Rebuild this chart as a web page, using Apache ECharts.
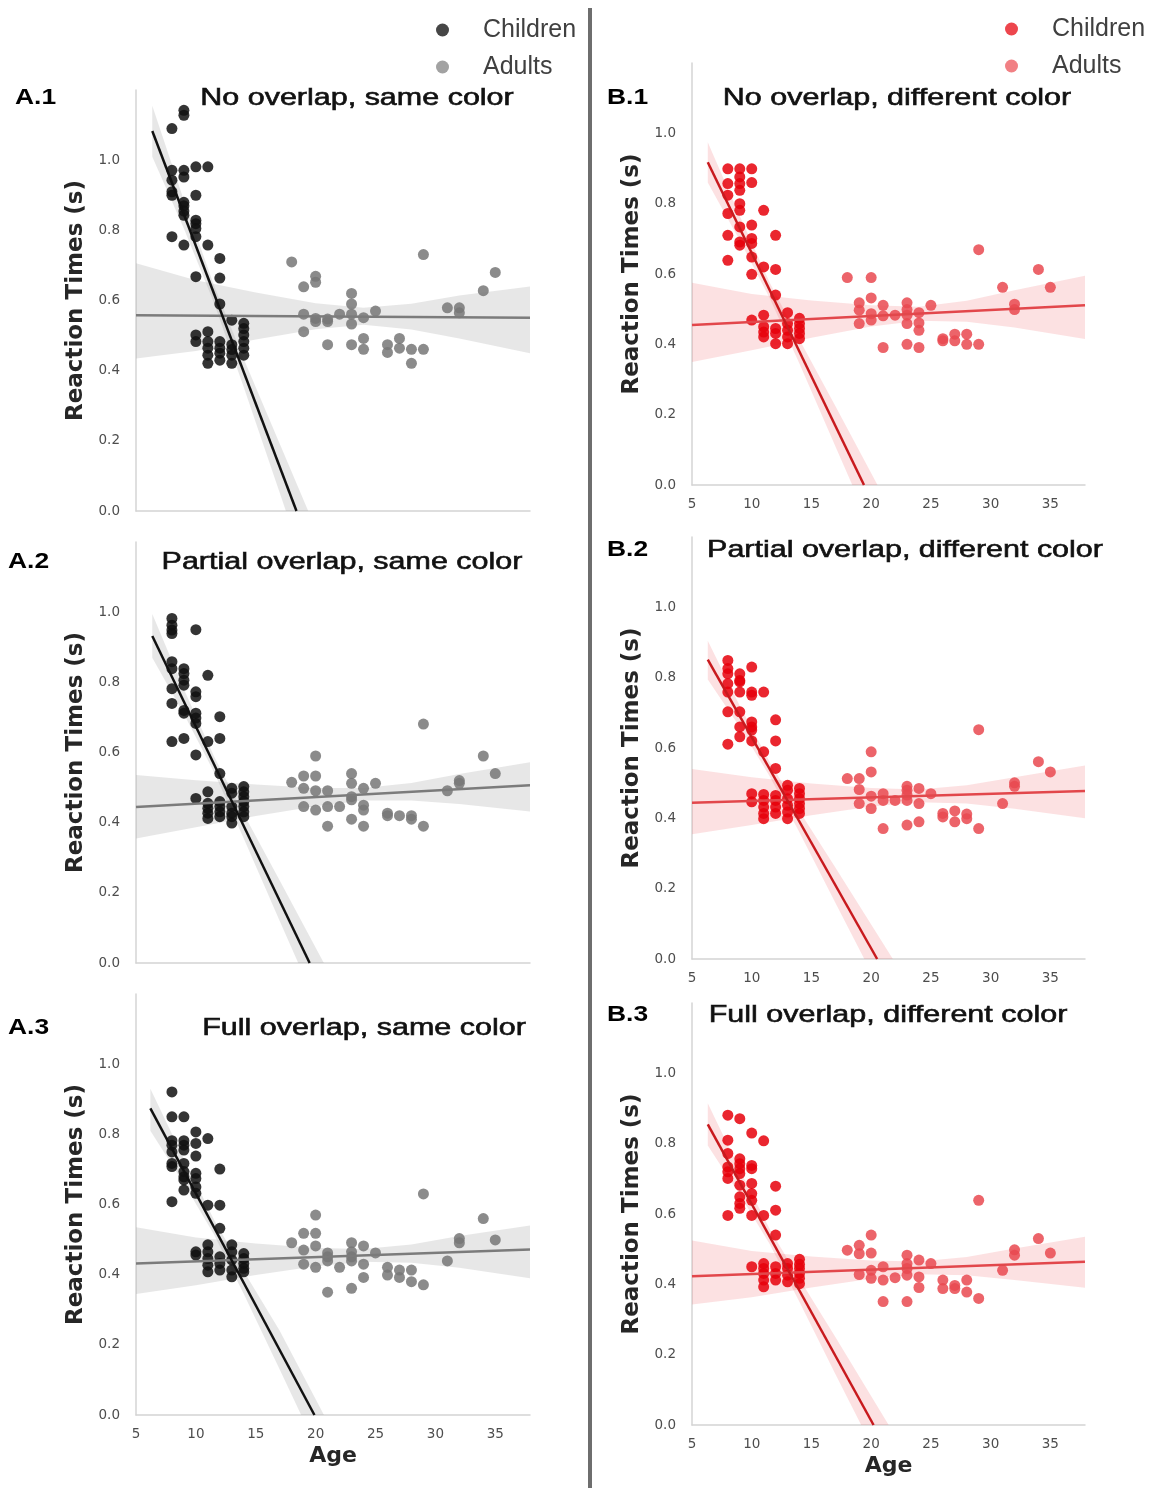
<!DOCTYPE html>
<html>
<head>
<meta charset="utf-8">
<title>Reaction times by age</title>
<script src="https://cdn.jsdelivr.net/npm/echarts@6/dist/echarts.min.js"></script>
<style>
  html, body { margin: 0; padding: 0; background: #fff; }
  #chart { width: 1165px; height: 1488px; }
</style>
</head>
<body>
<div id="chart"></div>
<script>
// points grouped by age: [age, [reaction times]]
var a1Children = [[8, [1.09, 0.971, 0.943, 0.91, 0.90, 0.782]], [9, [1.142, 1.128, 0.971, 0.952, 0.88, 0.87, 0.855, 0.843, 0.758]], [10, [0.981, 0.90, 0.829, 0.819, 0.805, 0.782, 0.668, 0.502, 0.483]], [11, [0.981, 0.758, 0.511, 0.483, 0.464, 0.444, 0.421]], [12, [0.72, 0.664, 0.59, 0.483, 0.464, 0.45, 0.43]], [13, [0.544, 0.474, 0.46, 0.444, 0.421]], [14, [0.535, 0.52, 0.502, 0.483, 0.464, 0.444]]];
var a1Adults = [[18, [0.710]], [19, [0.639, 0.561, 0.511]], [20, [0.669, 0.652, 0.549, 0.540]], [21, [0.547, 0.540, 0.474]], [22, [0.561]], [23, [0.620, 0.590, 0.561, 0.533, 0.474]], [24, [0.551, 0.492, 0.461]], [25, [0.570]], [26, [0.474, 0.452]], [27, [0.492, 0.464]], [28, [0.461, 0.421]], [29, [0.731, 0.461]], [31, [0.579]], [32, [0.579, 0.565]], [34, [0.628]], [35, [0.680]]];
var a2Children = [[8, [0.982, 0.963, 0.949, 0.939, 0.859, 0.839, 0.782, 0.740, 0.631]], [9, [0.839, 0.825, 0.806, 0.792, 0.720, 0.712, 0.640]], [10, [0.950, 0.773, 0.759, 0.712, 0.698, 0.683, 0.593, 0.469]], [11, [0.820, 0.631, 0.488, 0.455, 0.441, 0.427, 0.412]], [12, [0.702, 0.640, 0.540, 0.460, 0.446, 0.431, 0.417]], [13, [0.498, 0.484, 0.446, 0.427, 0.417, 0.399]], [14, [0.503, 0.488, 0.474, 0.460, 0.446, 0.431, 0.417]]];
var a2Adults = [[18, [0.515]], [19, [0.533, 0.498, 0.446]], [20, [0.590, 0.533, 0.491, 0.436]], [21, [0.491, 0.446, 0.390]], [22, [0.446]], [23, [0.540, 0.512, 0.474, 0.465, 0.410]], [24, [0.498, 0.450, 0.436, 0.390]], [25, [0.512]], [26, [0.427, 0.420]], [27, [0.420]], [28, [0.420, 0.410]], [29, [0.681, 0.390]], [31, [0.491]], [32, [0.520, 0.512]], [34, [0.590]], [35, [0.540]]];
var a3Children = [[8, [0.921, 0.850, 0.782, 0.769, 0.750, 0.717, 0.708, 0.608]], [9, [0.850, 0.782, 0.769, 0.755, 0.717, 0.694, 0.679, 0.670, 0.641]], [10, [0.807, 0.774, 0.738, 0.689, 0.674, 0.650, 0.632, 0.465, 0.456]], [11, [0.788, 0.598, 0.485, 0.465, 0.446, 0.427, 0.408]], [12, [0.701, 0.598, 0.532, 0.451, 0.432, 0.413]], [13, [0.485, 0.465, 0.442, 0.413, 0.394]], [14, [0.460, 0.446, 0.432, 0.418, 0.408]]];
var a3Adults = [[18, [0.491]], [19, [0.518, 0.470, 0.430]], [20, [0.570, 0.518, 0.482, 0.421]], [21, [0.462, 0.451, 0.439, 0.350]], [22, [0.421]], [23, [0.491, 0.465, 0.451, 0.439, 0.361]], [24, [0.482, 0.430, 0.392]], [25, [0.462]], [26, [0.421, 0.399]], [27, [0.413, 0.392]], [28, [0.413, 0.380]], [29, [0.630, 0.371]], [31, [0.439]], [32, [0.503, 0.491]], [34, [0.560]], [35, [0.499]]];
var b1Children = [[8, [0.899, 0.857, 0.824, 0.772, 0.710, 0.639]], [9, [0.899, 0.876, 0.857, 0.838, 0.800, 0.781, 0.734, 0.691, 0.682]], [10, [0.899, 0.860, 0.739, 0.701, 0.687, 0.648, 0.599, 0.469]], [11, [0.781, 0.620, 0.483, 0.450, 0.435, 0.421]], [12, [0.710, 0.613, 0.540, 0.445, 0.431, 0.402]], [13, [0.490, 0.459, 0.440, 0.421, 0.402]], [14, [0.474, 0.459, 0.445, 0.431, 0.416]]];
var b1Adults = [[18, [0.590]], [19, [0.518, 0.497, 0.459]], [20, [0.590, 0.532, 0.487, 0.469]], [21, [0.511, 0.481, 0.391]], [22, [0.483]], [23, [0.518, 0.499, 0.483, 0.459, 0.400]], [24, [0.490, 0.461, 0.440, 0.391]], [25, [0.511]], [26, [0.416, 0.410]], [27, [0.429, 0.410]], [28, [0.429, 0.400]], [29, [0.669, 0.400]], [31, [0.562]], [32, [0.514, 0.499]], [34, [0.613]], [35, [0.562]]];
var b2Children = [[8, [0.849, 0.826, 0.811, 0.783, 0.759, 0.703, 0.611]], [9, [0.811, 0.792, 0.788, 0.759, 0.703, 0.660, 0.632]], [10, [0.830, 0.759, 0.750, 0.674, 0.660, 0.651, 0.620, 0.470, 0.447]], [11, [0.759, 0.589, 0.468, 0.451, 0.432, 0.414, 0.399]], [12, [0.680, 0.620, 0.542, 0.465, 0.451, 0.432, 0.414]], [13, [0.494, 0.480, 0.456, 0.437, 0.418, 0.399]], [14, [0.485, 0.470, 0.456, 0.442, 0.428, 0.414]]];
var b2Adults = [[18, [0.513]], [19, [0.513, 0.482, 0.442]], [20, [0.589, 0.532, 0.463, 0.428]], [21, [0.470, 0.451, 0.371]], [22, [0.451]], [23, [0.491, 0.480, 0.466, 0.451, 0.381]], [24, [0.485, 0.442, 0.390]], [25, [0.470]], [26, [0.414, 0.404]], [27, [0.421, 0.390]], [28, [0.412, 0.399]], [29, [0.652, 0.371]], [31, [0.442]], [32, [0.501, 0.491]], [34, [0.561]], [35, [0.532]]];
var b3Children = [[8, [0.881, 0.810, 0.772, 0.734, 0.720, 0.701, 0.596]], [9, [0.871, 0.757, 0.743, 0.729, 0.715, 0.682, 0.649, 0.630, 0.616]], [10, [0.830, 0.738, 0.729, 0.687, 0.658, 0.639, 0.596, 0.450]], [11, [0.808, 0.596, 0.459, 0.445, 0.431, 0.412, 0.393]], [12, [0.679, 0.611, 0.540, 0.450, 0.431, 0.412]], [13, [0.459, 0.445, 0.426, 0.407]], [14, [0.471, 0.457, 0.445, 0.431, 0.417, 0.402]]];
var b3Adults = [[18, [0.497]], [19, [0.511, 0.487, 0.428]], [20, [0.540, 0.489, 0.440, 0.417]], [21, [0.450, 0.412, 0.351]], [22, [0.419]], [23, [0.483, 0.459, 0.445, 0.426, 0.351]], [24, [0.469, 0.421, 0.391]], [25, [0.459]], [26, [0.412, 0.388]], [27, [0.397, 0.388]], [28, [0.412, 0.378]], [29, [0.639, 0.360]], [31, [0.440]], [32, [0.498, 0.483]], [34, [0.530]], [35, [0.489]]];

// regression lines, end points
var a1ChildLine = [[6.36, 1.083], [18.4, 0]];
var a1AdultLine = [[5, 0.558], [37.9, 0.551]];
var a2ChildLine = [[6.36, 0.932], [19.5, 0]];
var a2AdultLine = [[5, 0.445], [37.9, 0.507]];
var a3ChildLine = [[6.2, 0.874], [19.9, 0]];
var a3AdultLine = [[5, 0.432], [37.9, 0.472]];
var b1ChildLine = [[6.32, 0.918], [19.4, 0]];
var b1AdultLine = [[5, 0.455], [37.9, 0.511]];
var b2ChildLine = [[6.32, 0.851], [20.5, 0]];
var b2AdultLine = [[5, 0.444], [37.9, 0.478]];
var b3ChildLine = [[6.32, 0.855], [20.2, 0]];
var b3AdultLine = [[5, 0.423], [37.9, 0.464]];

// confidence bands: [age, lower, upper]
var a1ChildBand = [[6.36, 1.01, 1.155], [9, 0.805, 0.885], [11.5, 0.594, 0.644], [14, 0.353, 0.433], [17, 0.052, 0.192], [20, -0.25, -0.05]];
var a1AdultBand = [[5, 0.435, 0.706], [10, 0.456, 0.658], [15, 0.489, 0.623], [20, 0.518, 0.592], [24, 0.531, 0.579], [28, 0.517, 0.591], [32, 0.492, 0.614], [37.9, 0.45, 0.64]];
var a2ChildBand = [[6.36, 0.87, 0.995], [9, 0.71, 0.78], [11.5, 0.545, 0.59], [14, 0.355, 0.425], [17, 0.12, 0.235], [21, -0.19, -0.02]];
var a2AdultBand = [[5, 0.355, 0.536], [10, 0.387, 0.521], [15, 0.419, 0.509], [20, 0.447, 0.499], [24, 0.463, 0.499], [28, 0.463, 0.513], [32, 0.453, 0.539], [37.9, 0.432, 0.572]];
var a3ChildBand = [[6.2, 0.81, 0.93], [9, 0.66, 0.73], [11.5, 0.515, 0.557], [14, 0.345, 0.41], [17, 0.13, 0.24], [21, -0.16, -0.02]];
var a3AdultBand = [[5, 0.345, 0.535], [10, 0.37, 0.506], [15, 0.399, 0.489], [20, 0.424, 0.476], [24, 0.437, 0.473], [28, 0.434, 0.486], [32, 0.42, 0.51], [37.9, 0.39, 0.54]];
var b1ChildBand = [[6.32, 0.86, 0.975], [9, 0.695, 0.765], [11.5, 0.532, 0.576], [14, 0.345, 0.413], [17, 0.11, 0.225], [21, -0.2, -0.03]];
var b1AdultBand = [[5, 0.35, 0.575], [10, 0.383, 0.543], [15, 0.419, 0.525], [20, 0.451, 0.511], [24, 0.467, 0.507], [28, 0.464, 0.524], [32, 0.448, 0.554], [37.9, 0.415, 0.595]];
var b2ChildBand = [[6.32, 0.795, 0.905], [9, 0.66, 0.72], [11.5, 0.52, 0.56], [14, 0.36, 0.42], [17, 0.16, 0.26], [22, -0.17, -0.01]];
var b2AdultBand = [[5, 0.355, 0.54], [10, 0.381, 0.517], [15, 0.409, 0.499], [20, 0.434, 0.486], [24, 0.446, 0.482], [28, 0.442, 0.494], [32, 0.427, 0.517], [37.9, 0.40, 0.55]];
var b3ChildBand = [[6.32, 0.795, 0.915], [9, 0.655, 0.725], [11.5, 0.515, 0.557], [14, 0.35, 0.415], [17, 0.145, 0.25], [22, -0.19, -0.03]];
var b3AdultBand = [[5, 0.343, 0.525], [10, 0.363, 0.495], [15, 0.391, 0.479], [20, 0.416, 0.468], [24, 0.429, 0.465], [28, 0.426, 0.478], [32, 0.412, 0.502], [37.9, 0.39, 0.535]];

var yTicks = [0, 0.2, 0.4, 0.6, 0.8, 1.0];
var xTicks = [5, 10, 15, 20, 25, 30, 35];

var gray = { child: '#111111', adult: '#777777', childLine: '#111111', adultLine: '#7b7b7b', band: 'rgba(160,160,160,0.25)', legendChild: '#262626', legendAdult: '#929292' };
var red = { child: '#e6000a', adult: '#e94950', childLine: '#c81a1e', adultLine: '#e2474b', band: 'rgba(236,90,94,0.18)', legendChild: '#ea262e', legendAdult: '#ee6a6e' };

var panels = [
  { grid: { left: 136, top: 90, width: 394, height: 421 }, pal: gray, xLabels: false, age: false, children: a1Children, adults: a1Adults, childLine: a1ChildLine, adultLine: a1AdultLine, childBand: a1ChildBand, adultBand: a1AdultBand },
  { grid: { left: 136, top: 542, width: 394, height: 421 }, pal: gray, xLabels: false, age: false, children: a2Children, adults: a2Adults, childLine: a2ChildLine, adultLine: a2AdultLine, childBand: a2ChildBand, adultBand: a2AdultBand },
  { grid: { left: 136, top: 994, width: 394, height: 421 }, pal: gray, xLabels: true, age: true, children: a3Children, adults: a3Adults, childLine: a3ChildLine, adultLine: a3AdultLine, childBand: a3ChildBand, adultBand: a3AdultBand },
  { grid: { left: 692, top: 63, width: 393, height: 422 }, pal: red, xLabels: true, age: false, children: b1Children, adults: b1Adults, childLine: b1ChildLine, adultLine: b1AdultLine, childBand: b1ChildBand, adultBand: b1AdultBand },
  { grid: { left: 692, top: 537, width: 393, height: 422 }, pal: red, xLabels: true, age: false, children: b2Children, adults: b2Adults, childLine: b2ChildLine, adultLine: b2AdultLine, childBand: b2ChildBand, adultBand: b2AdultBand },
  { grid: { left: 692, top: 1003, width: 393, height: 422 }, pal: red, xLabels: true, age: true, children: b3Children, adults: b3Adults, childLine: b3ChildLine, adultLine: b3AdultLine, childBand: b3ChildBand, adultBand: b3AdultBand }
];

var labels = [
  { tag: 'A.1', tagX: 15, title: 'No overlap, same color', titleX: 357, y: 98 },
  { tag: 'A.2', tagX: 8, title: 'Partial overlap, same color', titleX: 342, y: 562 },
  { tag: 'A.3', tagX: 8, title: 'Full overlap, same color', titleX: 364, y: 1028 },
  { tag: 'B.1', tagX: 607, title: 'No overlap, different color', titleX: 897, y: 98 },
  { tag: 'B.2', tagX: 607, title: 'Partial overlap, different color', titleX: 905, y: 550 },
  { tag: 'B.3', tagX: 607, title: 'Full overlap, different color', titleX: 888, y: 1015 }
];

function flatten(groups) {
  var out = [];
  groups.forEach(function (g) {
    g[1].forEach(function (v) { out.push([g[0], v]); });
  });
  return out;
}

function bandSeries(band, idx, color) {
  return {
    type: 'custom', xAxisIndex: idx, yAxisIndex: idx, clip: true, silent: true, z: 1,
    data: band,
    renderItem: function (params, api) {
      if (params.dataIndex !== 0) return;
      var top = band.map(function (d) { return api.coord([d[0], d[2]]); });
      var bottom = band.slice().reverse().map(function (d) { return api.coord([d[0], d[1]]); });
      return { type: 'polygon', shape: { points: top.concat(bottom) }, style: { fill: color } };
    }
  };
}

var axisGray = '#d4d4d4';
var tickStyle = { color: '#4d4d4d', fontSize: 13.5, fontFamily: 'DejaVu Sans' };
var nameStyle = { color: '#262626', fontSize: 23, fontWeight: 'bold', fontFamily: 'DejaVu Sans' };

var grids = [], xAxes = [], yAxes = [], series = [];

panels.forEach(function (p, i) {
  grids.push(Object.assign({ outerBoundsMode: 'none', containLabel: false }, p.grid));
  xAxes.push({
    type: 'value', gridIndex: i, min: 5, max: 37.9, interval: 5,
    axisLine: { show: true, onZero: false, lineStyle: { color: axisGray, width: 1.5 } },
    axisTick: { show: false }, splitLine: { show: false },
    axisLabel: Object.assign({ show: p.xLabels, margin: 12, showMaxLabel: true,
      formatter: function (v) { return xTicks.indexOf(v) >= 0 ? String(v) : ''; } }, tickStyle),
    name: p.age ? 'Age' : '', nameLocation: 'middle', nameGap: 30,
    nameTextStyle: Object.assign({}, nameStyle, { fontSize: 22 })
  });
  yAxes.push({
    type: 'value', gridIndex: i, min: 0, max: 1.2, interval: 0.2,
    axisLine: { show: true, onZero: false, lineStyle: { color: axisGray, width: 1.5 } },
    axisTick: { show: false }, splitLine: { show: false },
    axisLabel: Object.assign({ margin: 16,
      formatter: function (v) {
        var hit = yTicks.filter(function (t) { return Math.abs(t - v) < 1e-6; });
        return hit.length ? hit[0].toFixed(1) : '';
      } }, tickStyle),
    name: 'Reaction Times (s)', nameLocation: 'middle', nameGap: 48, nameTextStyle: nameStyle
  });

  series.push(bandSeries(p.adultBand, i, p.pal.band));
  series.push(bandSeries(p.childBand, i, p.pal.band));
  series.push({
    name: 'Children', type: 'scatter', xAxisIndex: i, yAxisIndex: i, z: 2,
    symbolSize: 11, data: flatten(p.children),
    itemStyle: { color: p.pal.child, opacity: 0.85 }
  });
  series.push({
    name: 'Adults', type: 'scatter', xAxisIndex: i, yAxisIndex: i, z: 2,
    symbolSize: 11, data: flatten(p.adults),
    itemStyle: { color: p.pal.adult, opacity: 0.85 }
  });
  series.push({
    type: 'line', xAxisIndex: i, yAxisIndex: i, z: 3, showSymbol: false, symbol: 'none', silent: true,
    data: p.adultLine, lineStyle: { color: p.pal.adultLine, width: 2.5 }
  });
  series.push({
    type: 'line', xAxisIndex: i, yAxisIndex: i, z: 4, showSymbol: false, symbol: 'none', silent: true,
    data: p.childLine, lineStyle: { color: p.pal.childLine, width: 2.5 }
  });
});

var graphics = [
  { type: 'rect', shape: { x: 588, y: 8, width: 4, height: 1480 }, style: { fill: '#6e6e6e' } }
];
labels.forEach(function (l) {
  graphics.push({
    type: 'text', x: l.tagX, y: l.y, scaleX: 1.2,
    style: { text: l.tag, font: 'bold 22px "Liberation Sans"', fill: '#000',
      align: 'left', verticalAlign: 'middle', textAlign: 'left', textVerticalAlign: 'middle' }
  });
  graphics.push({
    type: 'text', x: l.titleX, y: l.y, scaleX: 1.27,
    style: { text: l.title, font: '24px "Liberation Sans"', fill: '#111', stroke: '#111', lineWidth: 0.6,
      align: 'center', verticalAlign: 'middle', textAlign: 'center', textVerticalAlign: 'middle' }
  });
});

function legendFor(left, top, pal) {
  return {
    left: left, top: top, orient: 'vertical', icon: 'circle', selectedMode: false,
    itemWidth: 13, itemHeight: 15, itemGap: 7, padding: 0,
    textStyle: { fontFamily: 'Liberation Sans', fontSize: 25, lineHeight: 30, color: '#404040', padding: [0, 0, 0, 29] },
    data: [
      { name: 'Children', itemStyle: { color: pal.legendChild } },
      { name: 'Adults', itemStyle: { color: pal.legendAdult } }
    ]
  };
}

var myChart = echarts.init(document.getElementById('chart'));
myChart.setOption({
  animation: false,
  backgroundColor: '#ffffff',
  legend: [legendFor(436, 15, gray), legendFor(1005, 14, red)],
  grid: grids,
  xAxis: xAxes,
  yAxis: yAxes,
  series: series,
  graphic: graphics
});
</script>
</body>
</html>
